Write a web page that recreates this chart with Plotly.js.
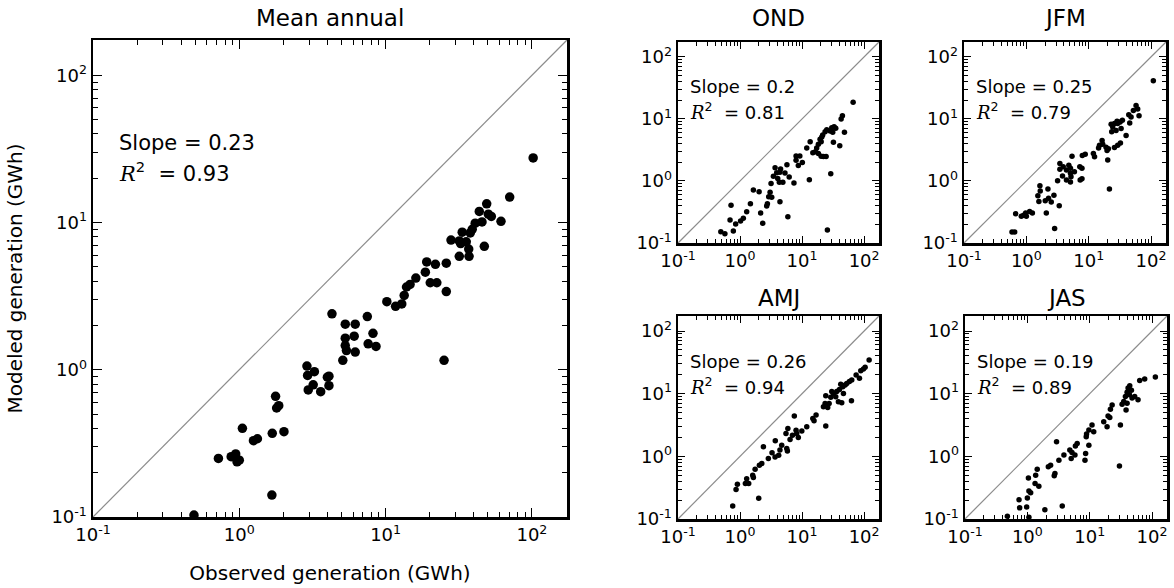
<!DOCTYPE html>
<html>
<head>
<meta charset="utf-8">
<script src="https://cdn.plot.ly/plotly-3.0.1.min.js"></script>
<style>html,body{margin:0;padding:0;background:#fff;}#chart{width:1174px;height:588px;}</style>
</head>
<body>
<div id="chart"></div>
<script>
// ---------- data (observed x, modeled y, GWh) ----------
var mainObs = [102,70.5,49.1,43.7,50.4,52.8,61.5,45.6,41.0,39.1,33.4,37.9,28.0,31.9,35.6,32.6,37.0,47.3,31.9,37.2,19.1,21.9,26.0,18.7,16.1,20.2,22.4,14.7,13.9,26.0,13.4,10.2,12.9,11.7,4.3,7.5,5.3,6.2,8.2,5.3,6.1,5.3,7.6,8.6,5.4,6.2,5.1,25.1,2.9,3.26,2.93,4.1,4.0,3.2,4.1,2.96,3.6,1.77,1.86,1.80,1.05,1.68,2.02,1.33,1.25,0.72,0.88,0.945,0.965,1.0,1.67,0.49];
var mainMod = [27.5,14.9,13.4,11.9,11.4,11.0,10.2,10.1,9.9,9.0,8.6,8.5,7.6,7.5,7.4,7.2,6.6,6.9,5.9,5.9,5.4,5.2,5.3,4.6,4.2,3.9,3.9,3.8,3.65,3.4,3.2,2.9,2.8,2.7,2.4,2.3,2.04,2.04,1.77,1.64,1.69,1.46,1.50,1.44,1.35,1.32,1.16,1.16,1.06,0.97,0.915,0.905,0.89,0.79,0.78,0.73,0.71,0.66,0.57,0.55,0.40,0.37,0.38,0.34,0.33,0.25,0.257,0.268,0.237,0.243,0.141,0.103];

var ondObs = [66.5,44.7,42.6,32.8,34.9,30.1,25.0,23.5,28.3,31.2,48.2,21.5,20.8,19.5,20.3,13.5,18.3,32.0,40.5,11.9,17.2,16.4,18.3,14.9,20.3,22.1,24.4,8.0,9.2,8.0,10.1,8.7,5.7,3.67,4.5,3.9,4.4,5.3,6.2,3.45,4.05,4.9,4.3,3.16,7.4,13.1,29.0,1.64,2.03,3.05,3.24,2.90,0.716,1.47,2.76,4.4,2.69,1.28,1.13,1.02,0.85,0.69,2.15,2.32,5.9,0.78,0.49,0.57,25.6];
var ondMod = [18.6,11.3,10.0,7.5,7.1,7.2,6.7,6.2,6.4,6.1,6.1,5.5,5.1,4.7,4.3,4.3,3.9,4.2,3.7,3.4,3.4,2.97,2.76,2.86,2.50,2.47,2.47,2.53,2.53,2.15,1.98,1.77,1.83,1.64,1.56,1.36,1.38,1.35,1.16,1.19,1.10,0.95,0.95,0.91,0.93,1.05,1.31,0.716,0.673,0.657,0.545,0.559,0.405,0.431,0.431,0.464,0.395,0.320,0.250,0.226,0.203,0.235,0.305,0.208,0.266,0.156,0.152,0.141,0.162];

var jfmObs = [108.8,57.5,61.1,52.1,64.2,47.8,43.9,45.5,34.7,31.9,29.2,28.5,25.9,22.9,24.3,33.1,27.5,39.8,23.4,16.4,16.8,14.9,14.4,19.0,20.7,19.7,32.3,29.2,25.9,20.2,11.9,12.4,8.8,7.9,5.4,3.45,3.9,3.45,4.8,5.1,4.4,7.2,7.8,5.1,5.9,5.2,3.8,3.17,4.4,5.1,7.3,7.8,21.5,1.65,2.22,1.67,1.53,1.59,2.77,2.27,2.51,2.01,3.37,2.09,2.84,1.13,1.25,0.975,0.905,1.0,0.83,0.674,0.589,0.650];
var jfmMod = [41.3,16.4,14.5,13.7,11.2,10.7,11.7,8.6,9.5,8.9,8.4,9.2,8.4,8.2,7.4,7.0,6.5,5.4,6.2,4.5,3.9,3.77,3.4,3.5,3.3,3.1,4.1,3.77,3.46,2.17,2.77,2.45,2.7,2.57,2.51,1.92,1.70,1.54,1.80,1.60,1.50,1.70,1.60,1.33,1.41,1.17,1.20,1.01,1.04,0.96,1.04,1.09,0.745,0.84,0.745,0.69,0.575,0.467,0.59,0.528,0.456,0.479,0.398,0.304,0.171,0.323,0.304,0.304,0.279,0.269,0.269,0.296,0.151,0.151];

var amjObs = [120.4,103.8,97.5,88.3,74.3,84.1,63.2,58.0,52.5,49.4,45.3,40.0,36.2,32.0,46.4,34.9,29.0,38.5,43.6,62.5,24.1,23.5,22.1,25.9,27.3,24.1,16.8,14.9,15.6,11.9,9.9,7.5,8.0,8.2,7.0,8.7,6.4,5.9,5.5,3.7,4.7,5.66,5.8,4.4,4.2,3.67,3.28,2.38,2.86,2.24,2.05,1.75,1.60,1.64,1.28,1.22,1.38,0.906,0.862,2.0,0.762,42.0,30.1];
var amjMod = [34.6,26.4,24.8,23.3,19.9,17.6,16.5,15.6,14.6,13.8,12.9,11.7,10.8,10.1,10.1,8.95,8.74,7.45,7.18,7.73,9.3,7.0,6.2,6.0,7.0,3.04,4.56,4.03,3.70,2.96,2.53,4.39,2.62,2.32,2.18,2.0,1.86,2.79,2.32,1.77,1.51,1.33,1.22,1.26,1.04,0.98,1.14,1.42,0.92,0.77,0.72,0.62,0.50,0.459,0.44,0.367,0.367,0.359,0.295,0.214,0.161,14.1,10.8];

var jasObs = [113,76.2,63.4,43.9,41.3,46.7,39.8,43.4,37.4,47.8,52.7,59.6,35.2,39.8,33.1,38.3,22.9,21.5,19.7,21.0,16.8,19.0,31.1,10.9,11.6,9.7,8.9,8.8,9.7,8.6,8.4,6.3,5.9,4.8,5.2,5.8,5.05,3.86,3.21,2.94,30.0,2.36,2.17,2.77,2.70,1.44,1.36,1.04,1.33,1.53,1.06,1.13,1.0,0.735,0.753,0.975,3.63,1.91,0.478,1.06];
var jasMod = [18.4,17.1,16.3,13.4,12.3,11.3,10.5,9.6,9.0,8.5,9.0,8.0,7.5,7.06,6.8,5.5,6.6,5.65,4.42,4.15,3.58,2.98,3.17,3.17,2.48,2.63,2.27,2.06,1.51,1.11,0.87,1.61,1.46,1.26,1.15,1.05,0.92,1.05,0.87,1.71,0.70,0.72,0.68,0.53,0.49,0.62,0.50,0.45,0.367,0.332,0.280,0.263,0.216,0.203,0.151,0.155,0.161,0.140,0.111,0.107];

var panelTitles = ['Mean annual','OND','JFM','AMJ','JAS'];
var slopes = ['0.23','0.2','0.25','0.26','0.19'];
var r2s = ['0.93','0.81','0.79','0.94','0.89'];
var tickVals = [0.1, 1, 10, 100];
var tickText = ['10<sup>-1</sup>','10<sup>0</sup>','10<sup>1</sup>','10<sup>2</sup>'];
var axisMaxLog = 2.24;

// ---------- build ----------
var minorVals = [];
[0.1,1,10,100].forEach(function(d){ for (var k=2;k<=9;k++) minorVals.push(d*k); });

var FONT = 'DejaVu Sans, Arial, sans-serif';
function axis(domain, anchor, big){
  return {
    type:'log', range:[-1, axisMaxLog], domain:domain, anchor:anchor,
    tickmode:'array', tickvals:tickVals, ticktext:tickText,
    ticks:'inside', ticklen: big?9:7, tickwidth:1, tickcolor:'#000',
    minor:{tickmode:'array', tickvals:minorVals, ticks:'inside', ticklen: big?5:4, tickwidth:1, tickcolor:'#000', showgrid:false},
    showline:true, linewidth:2.5, linecolor:'#000', mirror:'allticks',
    showgrid:false, zeroline:false, fixedrange:true,
    tickfont:{family:FONT, size:18, color:'#000'}
  };
}

var W=1174, H=588;
function dx(a,b){return [a/W, b/W];}
function dy(top,bottom){return [1-bottom/H, 1-top/H];}

var panels = [
  {obs:mainObs, mod:mainMod, xd:dx(93,567), yd:dy(40,517), big:true},
  {obs:ondObs, mod:ondMod, xd:dx(678,879), yd:dy(42,243)},
  {obs:jfmObs, mod:jfmMod, xd:dx(964,1166), yd:dy(42,243)},
  {obs:amjObs, mod:amjMod, xd:dx(678,879), yd:dy(316,519)},
  {obs:jasObs, mod:jasMod, xd:dx(965,1167), yd:dy(316,519)}
];

var traces=[], shapes=[], annotations=[];
var layout = {
  width:W, height:H, margin:{l:0,r:0,t:0,b:0},
  paper_bgcolor:'#fff', plot_bgcolor:'#fff', showlegend:false,
  font:{family:FONT, color:'#000'}
};

panels.forEach(function(p,i){
  var n = i===0 ? '' : String(i+1);
  var xa='x'+n, ya='y'+n;
  layout['xaxis'+n] = axis(p.xd, ya, p.big);
  layout['yaxis'+n] = axis(p.yd, xa, p.big);
  traces.push({
    type:'scatter', mode:'markers', x:p.obs, y:p.mod, xaxis:xa, yaxis:ya,
    marker:{color:'#000', size: p.big?9.5:5.5, line:{width:0}}, hoverinfo:'x+y'
  });
  shapes.push({type:'line', xref:xa+' domain', yref:ya+' domain', x0:0, y0:0, x1:1, y1:1,
    line:{color:'#8c8c8c', width:1.2}, layer:'below'});
  var fs = p.big?21:18;
  annotations.push({xref:xa+' domain', yref:ya+' domain', x:0.05, y:p.big?0.785:0.777,
    xanchor:'left', yanchor:'middle', showarrow:false, text:'Slope = '+slopes[i],
    font:{family:FONT, size:fs, color:'#000'}});
  annotations.push({xref:xa+' domain', yref:ya+' domain', x:0.05, y:p.big?0.723:0.655,
    xanchor:'left', yanchor:'middle', showarrow:false,
    text:'<span style="font-family:DejaVu Serif;font-style:italic">R</span><sup>2</sup>&nbsp;&nbsp;= '+r2s[i],
    font:{family:FONT, size:fs, color:'#000'}});
  annotations.push({xref:xa+' domain', yref:'paper', x:0.5,
    y: i<3 ? 1-18/H : 1-298/H, xanchor:'center', yanchor:'middle', showarrow:false,
    text:panelTitles[i], font:{family:FONT, size:23, color:'#000'}});
});

layout.xaxis.title = {text:'Observed generation (GWh)', font:{family:FONT, size:20, color:'#000'}, standoff:22};
layout.yaxis.title = {text:'Modeled generation (GWh)', font:{family:FONT, size:20, color:'#000'}, standoff:24};
layout.shapes = shapes;
layout.annotations = annotations;

Plotly.newPlot('chart', traces, layout, {staticPlot:true, displayModeBar:false});
</script>
</body>
</html>
